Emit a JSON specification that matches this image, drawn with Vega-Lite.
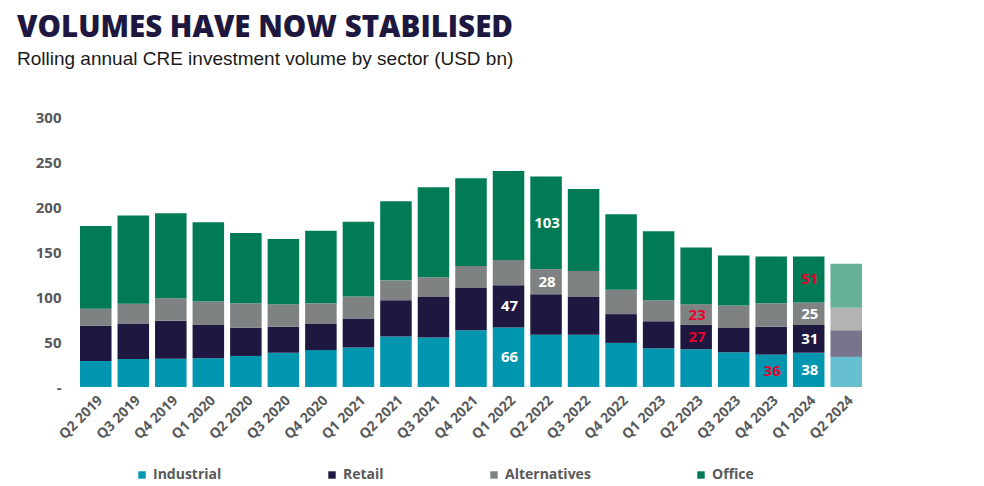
{
  "$schema": "https://vega.github.io/schema/vega-lite/v6.json",
  "width": 788,
  "height": 270,
  "autosize": {"type": "none"},
  "padding": {"left": 77, "top": 117, "right": 119, "bottom": 99},
  "background": "white",
  "title": {
    "text": "VOLUMES HAVE NOW STABILISED",
    "subtitle": "Rolling annual CRE investment volume by sector (USD bn)",
    "anchor": "start",
    "frame": "group",
    "dx": -60,
    "offset": 40,
    "font": "Open Sans",
    "fontSize": 29.5,
    "fontWeight": 800,
    "color": "#1E1840",
    "subtitleFont": "Liberation Sans",
    "subtitleFontSize": 19,
    "subtitleColor": "#1a1a1a",
    "subtitlePadding": 7
  },
  "config": {
    "view": {"stroke": null},
    "axis": {"labelFont": "Open Sans", "labelFontWeight": "bold", "labelColor": "#58595B", "grid": false, "ticks": false, "domain": false, "title": null}
  },
  "data": {
    "values": [
      {"quarter": "Q2 2019", "sector": "Industrial", "value": 29, "status": "actual"},
      {"quarter": "Q2 2019", "sector": "Retail", "value": 39, "status": "actual"},
      {"quarter": "Q2 2019", "sector": "Alternatives", "value": 19, "status": "actual"},
      {"quarter": "Q2 2019", "sector": "Office", "value": 92, "status": "actual"},
      {"quarter": "Q3 2019", "sector": "Industrial", "value": 31, "status": "actual"},
      {"quarter": "Q3 2019", "sector": "Retail", "value": 39.5, "status": "actual"},
      {"quarter": "Q3 2019", "sector": "Alternatives", "value": 22, "status": "actual"},
      {"quarter": "Q3 2019", "sector": "Office", "value": 98, "status": "actual"},
      {"quarter": "Q4 2019", "sector": "Industrial", "value": 31.5, "status": "actual"},
      {"quarter": "Q4 2019", "sector": "Retail", "value": 42, "status": "actual"},
      {"quarter": "Q4 2019", "sector": "Alternatives", "value": 25, "status": "actual"},
      {"quarter": "Q4 2019", "sector": "Office", "value": 94.5, "status": "actual"},
      {"quarter": "Q1 2020", "sector": "Industrial", "value": 32, "status": "actual"},
      {"quarter": "Q1 2020", "sector": "Retail", "value": 37.5, "status": "actual"},
      {"quarter": "Q1 2020", "sector": "Alternatives", "value": 25.5, "status": "actual"},
      {"quarter": "Q1 2020", "sector": "Office", "value": 88, "status": "actual"},
      {"quarter": "Q2 2020", "sector": "Industrial", "value": 34.5, "status": "actual"},
      {"quarter": "Q2 2020", "sector": "Retail", "value": 31.5, "status": "actual"},
      {"quarter": "Q2 2020", "sector": "Alternatives", "value": 27, "status": "actual"},
      {"quarter": "Q2 2020", "sector": "Office", "value": 78, "status": "actual"},
      {"quarter": "Q3 2020", "sector": "Industrial", "value": 38, "status": "actual"},
      {"quarter": "Q3 2020", "sector": "Retail", "value": 29, "status": "actual"},
      {"quarter": "Q3 2020", "sector": "Alternatives", "value": 25, "status": "actual"},
      {"quarter": "Q3 2020", "sector": "Office", "value": 72.5, "status": "actual"},
      {"quarter": "Q4 2020", "sector": "Industrial", "value": 41, "status": "actual"},
      {"quarter": "Q4 2020", "sector": "Retail", "value": 29, "status": "actual"},
      {"quarter": "Q4 2020", "sector": "Alternatives", "value": 23, "status": "actual"},
      {"quarter": "Q4 2020", "sector": "Office", "value": 80.5, "status": "actual"},
      {"quarter": "Q1 2021", "sector": "Industrial", "value": 44, "status": "actual"},
      {"quarter": "Q1 2021", "sector": "Retail", "value": 32, "status": "actual"},
      {"quarter": "Q1 2021", "sector": "Alternatives", "value": 24.5, "status": "actual"},
      {"quarter": "Q1 2021", "sector": "Office", "value": 83, "status": "actual"},
      {"quarter": "Q2 2021", "sector": "Industrial", "value": 56, "status": "actual"},
      {"quarter": "Q2 2021", "sector": "Retail", "value": 40.5, "status": "actual"},
      {"quarter": "Q2 2021", "sector": "Alternatives", "value": 22, "status": "actual"},
      {"quarter": "Q2 2021", "sector": "Office", "value": 88, "status": "actual"},
      {"quarter": "Q3 2021", "sector": "Industrial", "value": 55, "status": "actual"},
      {"quarter": "Q3 2021", "sector": "Retail", "value": 45, "status": "actual"},
      {"quarter": "Q3 2021", "sector": "Alternatives", "value": 22, "status": "actual"},
      {"quarter": "Q3 2021", "sector": "Office", "value": 100, "status": "actual"},
      {"quarter": "Q4 2021", "sector": "Industrial", "value": 63, "status": "actual"},
      {"quarter": "Q4 2021", "sector": "Retail", "value": 47, "status": "actual"},
      {"quarter": "Q4 2021", "sector": "Alternatives", "value": 24.5, "status": "actual"},
      {"quarter": "Q4 2021", "sector": "Office", "value": 97.5, "status": "actual"},
      {"quarter": "Q1 2022", "sector": "Industrial", "value": 66, "status": "actual", "callout": "peak"},
      {"quarter": "Q1 2022", "sector": "Retail", "value": 47, "status": "actual", "callout": "peak"},
      {"quarter": "Q1 2022", "sector": "Alternatives", "value": 28, "status": "actual"},
      {"quarter": "Q1 2022", "sector": "Office", "value": 99, "status": "actual"},
      {"quarter": "Q2 2022", "sector": "Industrial", "value": 58, "status": "actual"},
      {"quarter": "Q2 2022", "sector": "Retail", "value": 45, "status": "actual"},
      {"quarter": "Q2 2022", "sector": "Alternatives", "value": 28, "status": "actual", "callout": "peak"},
      {"quarter": "Q2 2022", "sector": "Office", "value": 103, "status": "actual", "callout": "peak"},
      {"quarter": "Q3 2022", "sector": "Industrial", "value": 58, "status": "actual"},
      {"quarter": "Q3 2022", "sector": "Retail", "value": 42, "status": "actual"},
      {"quarter": "Q3 2022", "sector": "Alternatives", "value": 29, "status": "actual"},
      {"quarter": "Q3 2022", "sector": "Office", "value": 91, "status": "actual"},
      {"quarter": "Q4 2022", "sector": "Industrial", "value": 49, "status": "actual"},
      {"quarter": "Q4 2022", "sector": "Retail", "value": 32, "status": "actual"},
      {"quarter": "Q4 2022", "sector": "Alternatives", "value": 27, "status": "actual"},
      {"quarter": "Q4 2022", "sector": "Office", "value": 84, "status": "actual"},
      {"quarter": "Q1 2023", "sector": "Industrial", "value": 43, "status": "actual"},
      {"quarter": "Q1 2023", "sector": "Retail", "value": 30, "status": "actual"},
      {"quarter": "Q1 2023", "sector": "Alternatives", "value": 23.5, "status": "actual"},
      {"quarter": "Q1 2023", "sector": "Office", "value": 76.5, "status": "actual"},
      {"quarter": "Q2 2023", "sector": "Industrial", "value": 42, "status": "actual"},
      {"quarter": "Q2 2023", "sector": "Retail", "value": 27, "status": "actual", "callout": "low"},
      {"quarter": "Q2 2023", "sector": "Alternatives", "value": 23, "status": "actual", "callout": "low"},
      {"quarter": "Q2 2023", "sector": "Office", "value": 63, "status": "actual"},
      {"quarter": "Q3 2023", "sector": "Industrial", "value": 38.5, "status": "actual"},
      {"quarter": "Q3 2023", "sector": "Retail", "value": 27, "status": "actual"},
      {"quarter": "Q3 2023", "sector": "Alternatives", "value": 25, "status": "actual"},
      {"quarter": "Q3 2023", "sector": "Office", "value": 55.5, "status": "actual"},
      {"quarter": "Q4 2023", "sector": "Industrial", "value": 36, "status": "actual", "callout": "low"},
      {"quarter": "Q4 2023", "sector": "Retail", "value": 31, "status": "actual"},
      {"quarter": "Q4 2023", "sector": "Alternatives", "value": 26, "status": "actual"},
      {"quarter": "Q4 2023", "sector": "Office", "value": 52, "status": "actual"},
      {"quarter": "Q1 2024", "sector": "Industrial", "value": 38, "status": "actual", "callout": "latest"},
      {"quarter": "Q1 2024", "sector": "Retail", "value": 31, "status": "actual", "callout": "latest"},
      {"quarter": "Q1 2024", "sector": "Alternatives", "value": 25, "status": "actual", "callout": "latest"},
      {"quarter": "Q1 2024", "sector": "Office", "value": 51, "status": "actual", "callout": "low"},
      {"quarter": "Q2 2024", "sector": "Industrial", "value": 33.5, "status": "estimate"},
      {"quarter": "Q2 2024", "sector": "Retail", "value": 29.5, "status": "estimate"},
      {"quarter": "Q2 2024", "sector": "Alternatives", "value": 25, "status": "estimate"},
      {"quarter": "Q2 2024", "sector": "Office", "value": 49, "status": "estimate"}
    ]
  },
  "transform": [
    {"stack": "value", "groupby": ["quarter"], "as": ["v0", "v1"]}
  ],
  "encoding": {
    "x": {
      "field": "quarter",
      "type": "nominal",
      "sort": null,
      "scale": {"paddingInner": 0.16, "paddingOuter": 0.08},
      "axis": {"labelAngle": -45, "labelFontSize": 14, "labelPadding": 6, "labelAlign": "right", "labelBaseline": "top"}
    }
  },
  "layer": [
    {
      "mark": {"type": "bar"},
      "encoding": {
        "y": {
          "field": "v1",
          "type": "quantitative",
          "scale": {"domain": [0, 300], "nice": false},
          "axis": {"values": [0, 50, 100, 150, 200, 250, 300], "labelFontSize": 15, "labelPadding": 16, "labelExpr": "datum.value == 0 ? '-' : datum.label", "title": null}
        },
        "y2": {"field": "v0"},
        "color": {
          "field": "sector",
          "type": "nominal",
          "scale": {"domain": ["Industrial", "Retail", "Alternatives", "Office"], "range": ["#0096AF", "#1E1840", "#7F8282", "#007B56"]},
          "legend": {
            "title": null,
            "orient": "none",
            "legendX": 58,
            "legendY": 351,
            "direction": "horizontal",
            "columns": 4,
            "gridAlign": "none",
            "columnPadding": 103,
            "symbolType": "square",
            "symbolSize": 55,
            "symbolStrokeWidth": 0,
            "labelFont": "Open Sans",
            "labelFontWeight": "bold",
            "labelFontSize": 14,
            "labelColor": "#58595B",
            "labelOffset": 4,
            "padding": 0
          }
        },
        "opacity": {
          "field": "status",
          "type": "nominal",
          "scale": {"domain": ["actual", "estimate"], "range": [1, 0.6]},
          "legend": null
        }
      }
    },
    {
      "transform": [
        {"filter": "datum.callout != null"},
        {"fold": ["v0", "v1"], "as": ["edge", "pos"]}
      ],
      "mark": {"type": "text", "font": "Open Sans", "fontWeight": "bold", "fontSize": 15, "baseline": "middle", "align": "center", "dx": 1},
      "encoding": {
        "y": {"aggregate": "mean", "field": "pos", "type": "quantitative", "title": null},
        "detail": {"field": "sector"},
        "text": {"field": "value", "type": "quantitative", "format": ".0f"},
        "fill": {
          "field": "callout",
          "type": "nominal",
          "scale": {"domain": ["peak", "latest", "low"], "range": ["#FFFFFF", "#FFFFFF", "#E4032E"]},
          "legend": null
        }
      }
    }
  ]
}
